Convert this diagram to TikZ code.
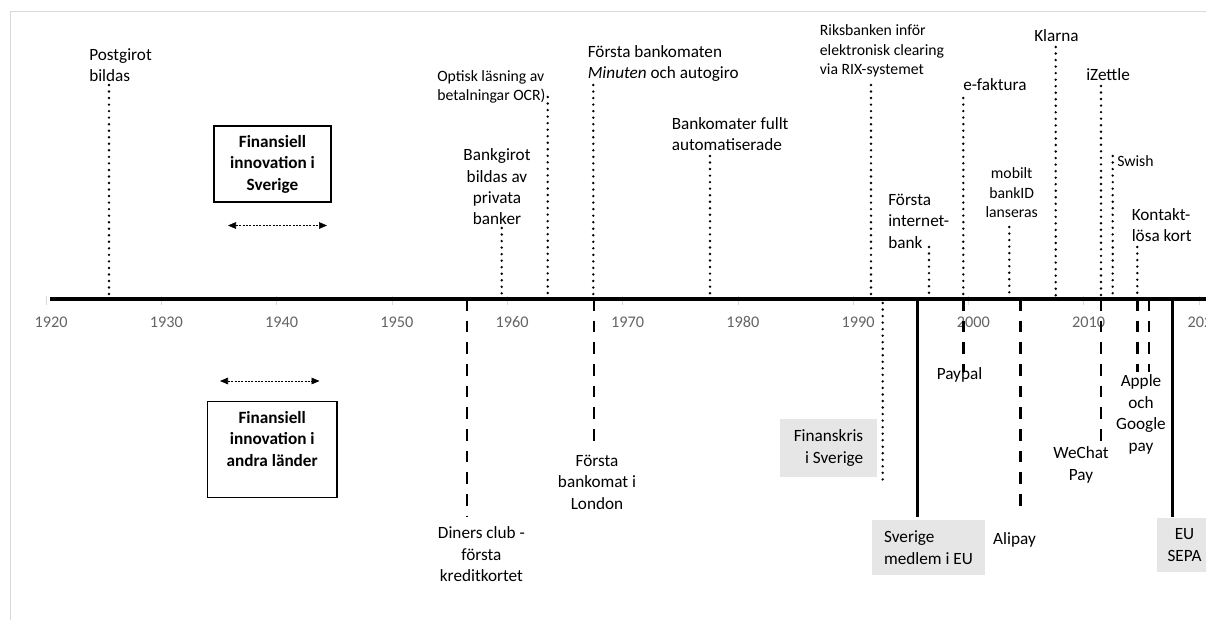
\documentclass[tikz,border=0pt]{standalone}
\usepackage{fontspec}
\setmainfont{Carlito}
\usetikzlibrary{arrows.meta}
\definecolor{boxgrey}{RGB}{231,230,230}
\definecolor{yeargrey}{RGB}{100,100,100}
\definecolor{framegrey}{RGB}{217,217,217}

\begin{document}
\begin{tikzpicture}[x=0.75pt,y=-0.75pt,
note/.style={inner sep=0pt,font=\fontsize{12.9}{16.1}\selectfont},
smallnote/.style={inner sep=0pt,font=\fontsize{11.8}{14.6}\selectfont},
yearlabel/.style={text=yeargrey,inner sep=0pt,font=\fontsize{12.2}{14}\selectfont},
dotline/.style={line width=2pt,dash pattern=on 0pt off 4.9pt,line cap=round},
dashline/.style={line width=2.1pt,dash pattern=on 8.75pt off 7.5pt},
fullline/.style={line width=2.2pt},
greybox/.style={fill=boxgrey,inner ysep=0pt,font=\fontsize{12.9}{16.1}\selectfont},
legendbox/.style={draw,line width=0.8pt,align=center,font=\bfseries\fontsize{12.9}{16.1}\selectfont},
spanarrow/.style={{Triangle[length=6pt,width=5pt]}-{Triangle[length=6pt,width=5pt]},dash pattern=on 1.5pt off 1pt,line width=0.5pt}]

\useasboundingbox (0,0) rectangle (1206,620);
\draw [framegrey] (10,620) -- (10,11) -- (1206,11);

% time axis
\coordinate (ax0) at (46,299);
\coordinate (ax1) at (1212,299);
\draw [framegrey] (46,296) -- (46,305) (161.3,296) -- (161.3,305) (276.6,296) -- (276.6,305)
  (391.9,296) -- (391.9,305) (507.2,296) -- (507.2,305) (622.5,296) -- (622.5,305)
  (737.8,296) -- (737.8,305) (853.1,296) -- (853.1,305) (968.4,296) -- (968.4,305)
  (1083.7,296) -- (1083.7,305) (1199,296) -- (1199,305);
\draw [line width=2.4pt] (ax0) ++(4,0) -- (ax1);

\node (y1920) at (51,322) [yearlabel] {1920};
\node (y1930) at (166.3,322) [yearlabel] {1930};
\node (y1940) at (281.6,322) [yearlabel] {1940};
\node (y1950) at (396.9,322) [yearlabel] {1950};
\node (y1960) at (512.2,322) [yearlabel] {1960};
\node (y1970) at (627.5,322) [yearlabel] {1970};
\node (y1980) at (742.8,322) [yearlabel] {1980};
\node (y1990) at (858.1,322) [yearlabel] {1990};
\node (y2000) at (973.4,322) [yearlabel] {2000};
\node (y2010) at (1088.7,322) [yearlabel] {2010};
\node (y2020) at (1204,322) [yearlabel] {2020};

% legend boxes
\node (se) at (272.5,164) [legendbox,minimum width=87.75pt,minimum height=57pt] {Finansiell\\innovation i\\Sverige};
\node (al) at (272.2,449.4) [legendbox,minimum width=97.2pt,minimum height=72.5pt] {Finansiell\\innovation i\\andra länder\\\mbox{}};
\coordinate (se0) at (228,225.5); \coordinate (se1) at (327,225.5);
\coordinate (al0) at (220,381); \coordinate (al1) at (319.5,381);
\draw [spanarrow] (se0) -- (se1);
\draw [spanarrow] (al0) -- (al1);

% Sverige, above the axis
\coordinate (pg0) at (109,296); \coordinate (pg1) at (109,85);
\coordinate (bg0) at (501.7,296); \coordinate (bg1) at (501.7,228);
\coordinate (ocr0) at (547.7,296); \coordinate (ocr1) at (547.7,97);
\coordinate (min0) at (593.3,296); \coordinate (min1) at (593.3,85);
\coordinate (auto0) at (710,296); \coordinate (auto1) at (710,156);
\coordinate (rix0) at (871,296); \coordinate (rix1) at (871,85);
\coordinate (inet0) at (929,296); \coordinate (inet1) at (929,247);
\coordinate (efak0) at (963.3,296); \coordinate (efak1) at (963.3,98);
\coordinate (bid0) at (1009.3,296); \coordinate (bid1) at (1009.3,227);
\coordinate (kla0) at (1055.7,296); \coordinate (kla1) at (1055.7,47);
\coordinate (ize0) at (1101,296); \coordinate (ize1) at (1101,86);
\coordinate (swi0) at (1112.7,296); \coordinate (swi1) at (1112.7,156);
\coordinate (kon0) at (1137.3,296); \coordinate (kon1) at (1137.3,247);

\draw [dotline] (pg1) -- (pg0);
\draw [dotline] (bg1) -- (bg0);
\draw [dotline] (ocr1) -- (ocr0);
\draw [dotline] (min1) -- (min0);
\draw [dotline] (auto1) -- (auto0);
\draw [dotline] (rix1) -- (rix0);
\draw [dotline] (inet1) -- (inet0);
\draw [dotline] (efak1) -- (efak0);
\draw [dotline] (bid1) -- (bid0);
\draw [dotline] (kla1) -- (kla0);
\draw [dotline] (ize1) -- (ize0);
\draw [dotline] (swi1) -- (swi0);
\draw [dotline] (kon1) -- (kon0);

% multi-line nodes sit on the baseline of their last line
\node (pg) at (89,82) [note,anchor=base west,align=left] {Postgirot\\bildas};
\node (bg) at (497,225) [note,anchor=base,align=center] {Bankgirot\\bildas av\\privata\\banker};
\node (ocr) at (437,100.5) [smallnote,anchor=base west,align=left] {Optisk läsning av\\betalningar OCR)};
\node (min) at (587.5,79) [note,anchor=base west,align=left] {Första bankomaten\\\textit{Minuten} och autogiro};
\node (auto) at (671.5,151) [note,anchor=base west,align=left] {Bankomater fullt\\automatiserade};
\node (rix) at (819.6,74.5) [smallnote,anchor=base west,align=left] {Riksbanken inför\\elektronisk clearing\\via RIX-systemet};
\node (inet) at (888,248) [note,anchor=base west,align=left] {Första\\internet-\\bank};
\node (efak) at (963,91) [note,anchor=base west] {e-faktura};
\node (bid) at (1011.7,217.5) [smallnote,anchor=base,align=center] {mobilt\\bankID\\lanseras};
\node (kla) at (1034,42) [note,anchor=base west] {Klarna};
\node (ize) at (1086,81) [note,anchor=base west] {iZettle};
\node (swi) at (1117,166.5) [smallnote,anchor=base west] {Swish};
\node (kon) at (1131.5,242) [note,anchor=base west,align=left] {Kontakt-\\lösa kort};

% andra länder, below the axis
\coordinate (din0) at (467,299); \coordinate (din1) at (467,516.7);
\coordinate (lon0) at (594,299); \coordinate (lon1) at (594,445);
\coordinate (fin0) at (882.7,303); \coordinate (fin1) at (882.7,481.7);
\coordinate (eu0) at (917.3,299); \coordinate (eu1) at (917.3,516.7);
\coordinate (pay0) at (963.3,299); \coordinate (pay1) at (963.3,371.7);
\coordinate (ali0) at (1020.7,299); \coordinate (ali1) at (1020.7,515);
\coordinate (wec0) at (1101,299); \coordinate (wec1) at (1101,445);
\coordinate (app0) at (1137.3,299); \coordinate (app1) at (1137.3,371.7);
\coordinate (goo0) at (1149,299); \coordinate (goo1) at (1149,371.7);
\coordinate (sepa0) at (1172.3,299); \coordinate (sepa1) at (1172.3,516.7);

\draw [dashline] (din0) -- (din1);
\draw [dashline] (lon0) -- (lon1);
\draw [dotline] (fin0) -- (fin1);
\draw [fullline] (eu0) -- (eu1);
\draw [dashline] (pay0) -- (pay1);
\draw [dashline] (ali0) -- (ali1);
\draw [dashline] (wec0) -- (wec1);
\draw [dashline] (app0) -- (app1);
\draw [dashline] (goo0) -- (goo1);
\draw [fullline] (sepa0) -- (sepa1);

\node (din) at (481.4,581.5) [note,anchor=base,align=center] {Diners club -\\första\\kreditkortet};
\node (lon) at (597,509) [note,anchor=base,align=center] {Första\\bankomat i\\London};
\node (fin) at (828.5,448) [greybox,minimum width=72.75pt,minimum height=43.5pt,align=right] {Finanskris\\i Sverige};
\node (eu) at (928.5,547.5) [greybox,minimum width=84.75pt,minimum height=41.25pt,align=left] {Sverige\\medlem i EU};
\node (pay) at (959.5,379) [note,anchor=base] {Paypal};
\node (ali) at (1014.5,544) [note,anchor=base] {Alipay};
\node (wec) at (1081,480) [note,anchor=base,align=center] {WeChat\\Pay};
\node (app) at (1141,451) [note,anchor=base,align=center] {Apple\\och\\Google\\pay};
\node (sepa) at (1184.5,545) [greybox,minimum width=42pt,minimum height=40.5pt,align=center] {EU\\SEPA};

\end{tikzpicture}
\end{document}
